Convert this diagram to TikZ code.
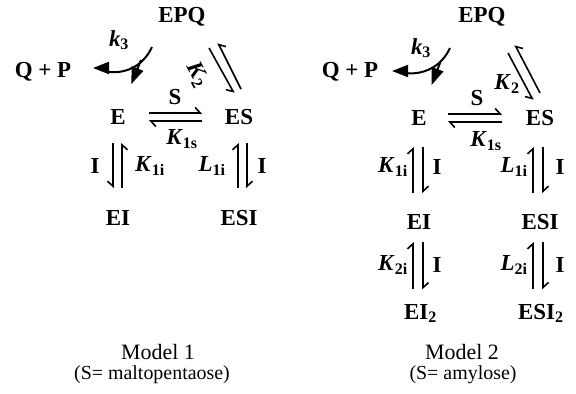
\documentclass[tikz,border=0pt]{standalone}
\usepackage{fontspec}
\setmainfont{Liberation Serif}
\usetikzlibrary{arrows.meta,calc}
\newcommand{\lowidx}[1]{\textsubscript{#1}}
\tikzset{
  species/.style={font=\fontsize{23}{26}\selectfont\bfseries, inner sep=0pt},
  const/.style={font=\fontsize{23}{26}\selectfont\bfseries, inner sep=0pt},
  caption/.style={font=\fontsize{22}{26}\selectfont, inner sep=0pt},
  harp/.style={line width=1.6bp, -{Straight Barb[harpoon, length=5bp, width=11bp]}},
  harpsw/.style={line width=1.6bp, -{Straight Barb[harpoon, swap, length=5bp, width=11bp]}},
  rate/.style={line width=2bp},
}

\begin{document}
\begin{tikzpicture}[x=1bp,y=1bp]
\useasboundingbox (0,0) rectangle (576,393);
% Model 1
\node[species] (EPQa) at (182,376) {EPQ};
\node[species] (QPa) at (43,321) {Q + P};
\node[species] (Ea) at (118,276) {E};
\node[species] (ESa) at (239,276) {ES};
\node[species] (EIa) at (118,175) {EI};
\node[species] (ESIa) at (239,175) {ESI};
\node[const] (k3a) at (119,353) {\textit{k}\lowidx{3}};
\node[const] (Sa) at (175,296) {S};
\node[const] (K1sa) at (182,254) {\textit{K}\lowidx{1s}};
\node[const, rotate=-62] (K2a) at (197,318) {\textit{K}\lowidx{2}};
\node[const] (Ia) at (95,227) {I};
\node[const] (K1ia) at (150,227) {\textit{K}\lowidx{1i}};
\node[const] (L1ia) at (212,227) {\textit{L}\lowidx{1i}};
\node[const] (Iba) at (262,227) {I};
\coordinate (kAa) at (152,346);
\coordinate (kBa) at (141,333);
\draw[rate, -{Triangle[length=16bp,width=12bp]}, shorten >=50bp] (kAa) to[out=-115,in=0] ([yshift=4bp]QPa.center);
\draw[rate, -{Triangle[length=17bp,width=12bp]}, shorten >=27bp] (kBa) -- (Ea);
\draw[harp, shorten <=31bp, shorten >=37bp] ([yshift=4bp]Ea.center) -- ([yshift=4bp]ESa.center);
\draw[harp, shorten <=37bp, shorten >=31bp] ([yshift=-4bp]ESa.center) -- ([yshift=-4bp]Ea.center);
\draw[harpsw, shorten <=26bp, shorten >=30bp] ([xshift=-5bp]Ea.center) -- ([xshift=-5bp]EIa.center);
\draw[harpsw, shorten <=30bp, shorten >=26bp] ([xshift=4bp]EIa.center) -- ([xshift=4bp]Ea.center);
\draw[harp, shorten <=30bp, shorten >=26bp] ([xshift=-1bp]ESIa.center) -- ([xshift=-1bp]ESa.center);
\draw[harp, shorten <=26bp, shorten >=30bp] ([xshift=8bp]ESa.center) -- ([xshift=8bp]ESIa.center);
\draw[harpsw] ([shift={(2,28)}]ESa.center) -- ([shift={(36,-26)}]EPQa.center);
\draw[harpsw] ([shift={(27,-31)}]EPQa.center) -- ([shift={(-5,24)}]ESa.center);
\node[caption] (M1) at (158,41) {Model 1};
\node[caption, font=\fontsize{20}{24}\selectfont] (S1) at (152,18) {(S= maltopentaose)};
% Model 2
\node[species] (EPQb) at (482,376) {EPQ};
\node[species] (QPb) at (350,321) {Q + P};
\node[species] (Eb) at (419,275) {E};
\node[species] (ESb) at (540,275) {ES};
\node[species] (EIb) at (419,171) {EI};
\node[species] (ESIb) at (540,171) {ESI};
\node[species, anchor=base west] (EI2b) at (404,74) {EI\lowidx{2}};
\node[species, anchor=base west] (ESI2b) at (518,74) {ESI\lowidx{2}};
\node[const] (k3b) at (421,345) {\textit{k}\lowidx{3}};
\node[const] (Sb) at (477,295) {S};
\node[const] (K2b) at (507,309) {\textit{K}\lowidx{2}};
\node[const] (K1sb) at (486,252) {\textit{K}\lowidx{1s}};
\node[const] (K1ib) at (393,226) {\textit{K}\lowidx{1i}};
\node[const] (Iab) at (437,226) {I};
\node[const] (L1ib) at (514,226) {\textit{L}\lowidx{1i}};
\node[const] (Ibb) at (560,226) {I};
\node[const] (K2ib) at (393,128) {\textit{K}\lowidx{2i}};
\node[const] (Icb) at (437,128) {I};
\node[const] (L2ib) at (514,128) {\textit{L}\lowidx{2i}};
\node[const] (Idb) at (560,128) {I};
\coordinate (kAb) at (450,345);
\coordinate (kBb) at (440,330);
\draw[rate, -{Triangle[length=16bp,width=12bp]}, shorten >=42bp] (kAb) to[out=-115,in=0] ([yshift=1bp]QPb.center);
\draw[rate, -{Triangle[length=17bp,width=12bp]}, shorten >=27bp] (kBb) -- (Eb);
\draw[harp, shorten <=29bp, shorten >=38bp] ([yshift=4bp]Eb.center) -- ([yshift=4bp]ESb.center);
\draw[harp, shorten <=38bp, shorten >=29bp] ([yshift=-4bp]ESb.center) -- ([yshift=-4bp]Eb.center);
\draw[harp, shorten <=29bp, shorten >=29bp] ([xshift=-6bp]EIb.center) -- ([xshift=-6bp]Eb.center);
\draw[harp, shorten <=29bp, shorten >=29bp] ([xshift=4bp]Eb.center) -- ([xshift=4bp]EIb.center);
\draw[harp, shorten <=29bp, shorten >=29bp] ([xshift=-7bp]ESIb.center) -- ([xshift=-7bp]ESb.center);
\draw[harp, shorten <=29bp, shorten >=29bp] ([xshift=3bp]ESb.center) -- ([xshift=3bp]ESIb.center);
\draw[harp, shorten <=24bp, shorten >=20bp] ([xshift=-6bp]EIb.center |- EI2b.center) -- ([xshift=-6bp]EIb.center);
\draw[harp, shorten <=20bp, shorten >=24bp] ([xshift=4bp]EIb.center) -- ([xshift=4bp]EIb.center |- EI2b.center);
\draw[harp, shorten <=24bp, shorten >=20bp] ([xshift=-7bp]ESIb.center |- ESI2b.center) -- ([xshift=-7bp]ESIb.center);
\draw[harp, shorten <=20bp, shorten >=24bp] ([xshift=3bp]ESIb.center) -- ([xshift=3bp]ESIb.center |- ESI2b.center);
\draw[harpsw] ([shift={(0,25)}]ESb.center) -- ([shift={(33,-28)}]EPQb.center);
\draw[harpsw] ([shift={(26,-36)}]EPQb.center) -- ([shift={(-7,18)}]ESb.center);
\node[caption] (M2) at (462,41) {Model 2};
\node[caption, font=\fontsize{20}{24}\selectfont] (S2) at (463,18) {(S= amylose)};
\end{tikzpicture}
\end{document}
